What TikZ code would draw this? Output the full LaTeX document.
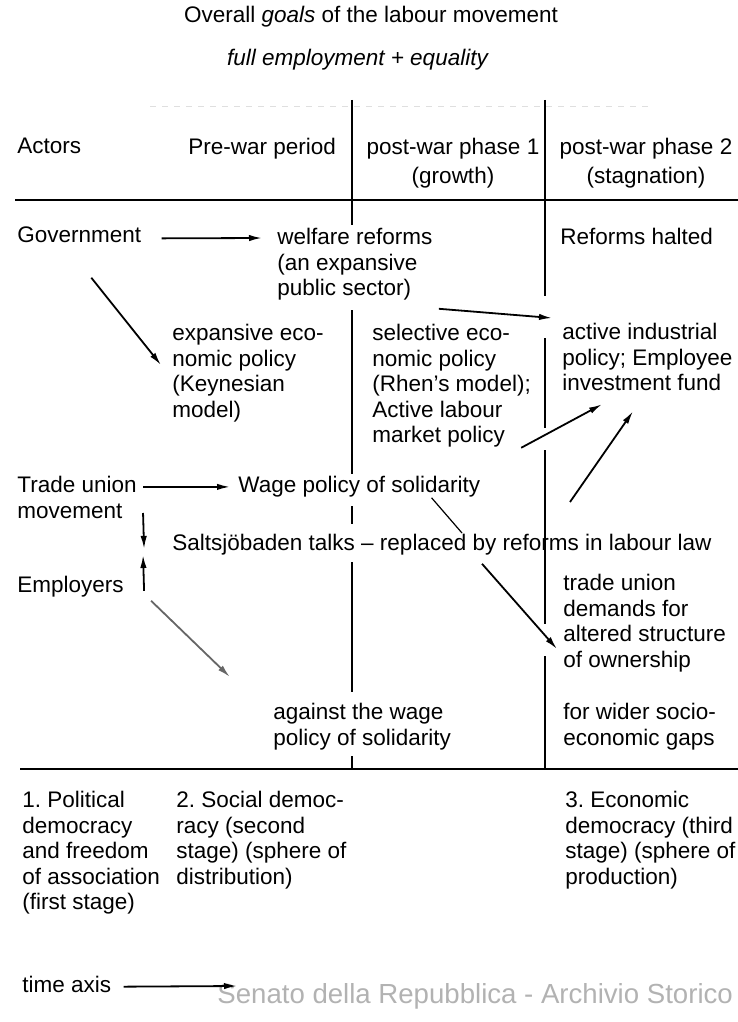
\documentclass[tikz,border=0pt]{standalone}
\usepackage{fontspec}
\setmainfont{Liberation Sans}
\usetikzlibrary{arrows.meta}
\frenchspacing

\begin{document}
\begin{tikzpicture}
[x=0.5pt, y=-0.5pt,
every node/.style = {inner sep=0pt, font=\fontsize{11.25}{12.75}\selectfont}]
\tikzstyle{cell} = [anchor=north west, align=left]
\tikzstyle{head} = [anchor=north, align=center]
\tikzstyle{arr} = [-{Latex[length=6.5pt,width=3.2pt]}, line width=0.9pt]
\tikzstyle{rule} = [line width=0.8pt]

\useasboundingbox (0,0) rectangle (738,1022);

% goals
\node (title) at (371,17) {Overall \textit{goals} of the labour movement};
\node (goal) at (358,60) {\textit{full employment + equality}};

% table head
\node[cell] (actors) at (17,138) {Actors};
\node[cell] (prewar) at (188,138) {Pre-war period};
\node[head] (phase1) at (453,138) {post-war phase 1\\[1.5pt](growth)};
\node[head] (phase2) at (646,138) {post-war phase 2\\[1.5pt](stagnation)};

% rules
\draw[gray!25, dashed] (150,106) -- (650,106);
\draw[rule] (15,200) -- (738,200);
\draw[rule] (20,769) -- (738,769);
\draw[rule] (352,100) -- (352,225) (352,310) -- (352,474) (352,506) -- (352,524)
  (352,562) -- (352,692) (352,756) -- (352,769);
\draw[rule] (545,100) -- (545,296) (545,338) -- (545,428) (545,450) -- (545,624)
  (545,656) -- (545,769);

% actors and policies
\node[cell] (gov) at (17,226) {Government};
\node[cell] (welf) at (277,228) {welfare reforms\\(an expansive\\public sector)};
\node[cell] (halted) at (560,228) {Reforms halted};
\node[cell] (keyn) at (172,324) {expansive eco-\\nomic policy\\(Keynesian\\model)};
\node[cell] (rhen) at (372,324) {selective eco-\\nomic policy\\(Rhen's model);\\Active labour\\market policy};
\node[cell] (indus) at (562,323) {active industrial\\policy; Employee\\investment fund};
\node[cell] (union) at (17,476) {Trade union\\movement};
\node[cell] (wage) at (238,476) {Wage policy of solidarity};
\node[cell] (salt) at (172,534) {Saltsjöbaden talks – replaced by reforms in labour law};
\node[cell] (empl) at (17,576) {Employers};
\node[cell] (owner) at (563,574) {trade union\\demands for\\altered structure\\of ownership};
\node[cell] (against) at (273,703) {against the wage\\policy of solidarity};
\node[cell] (gaps) at (563,703) {for wider socio-\\economic gaps};

% stages
\node[cell] (st1) at (22,791) {1. Political\\democracy\\and freedom\\of association\\(first stage)};
\node[cell] (st2) at (176,791) {2. Social democ-\\racy (second\\stage) (sphere of\\distribution)};
\node[cell] (st3) at (565,791) {3. Economic\\democracy (third\\stage) (sphere of\\production)};

\node[cell] (time) at (22,976) {time axis};
\node[cell, text=gray!60, font=\fontsize{13.8}{16}\selectfont] (archive) at (217,983)
  {Senato della Repubblica - Archivio Storico};

\coordinate (push) at (570,502);
\coordinate (later) at (237,986);

% arrows
\draw[arr] ([shift={(20,4)}]gov.east) -- ([shift={(-15,10)}]welf.north west);
\draw[arr] ([shift={(12,35)}]gov.south) -- ([shift={(-11,41)}]keyn.north west);
\draw[arr] ([shift={(6,8)}]welf.south east) -- ([shift={(-10,-5)}]indus.north west);
\draw[arr] ([shift={(-10,0)}]rhen.south east) -- ([shift={(40,13)}]indus.south west);
\draw[arr] (push) -- ([shift={(71,20)}]indus.south west);
\draw[arr] ([shift={(6,11)}]union.north east) -- ([shift={(-8,0)}]wage.west);
\draw[arr] ([shift={(6,37)}]union.north east) -- ([shift={(20,-38)}]empl.east);
\draw[arr] ([shift={(20,4)}]empl.east) -- ([shift={(6,79)}]union.north east);
\draw[arr, black!60] ([shift={(27,3)}]empl.south east) -- ([shift={(-43,-26)}]against.north west);
\draw[line width=0.6pt] ([shift={(-49,0)}]wage.south east) -- ([shift={(290,-1)}]salt.north west);
\draw[arr] ([shift={(310,8)}]salt.south west) -- ([shift={(-6,75)}]owner.north west);
\draw[arr] ([shift={(12,2)}]time.east) -- (later);

\end{tikzpicture}
\end{document}
